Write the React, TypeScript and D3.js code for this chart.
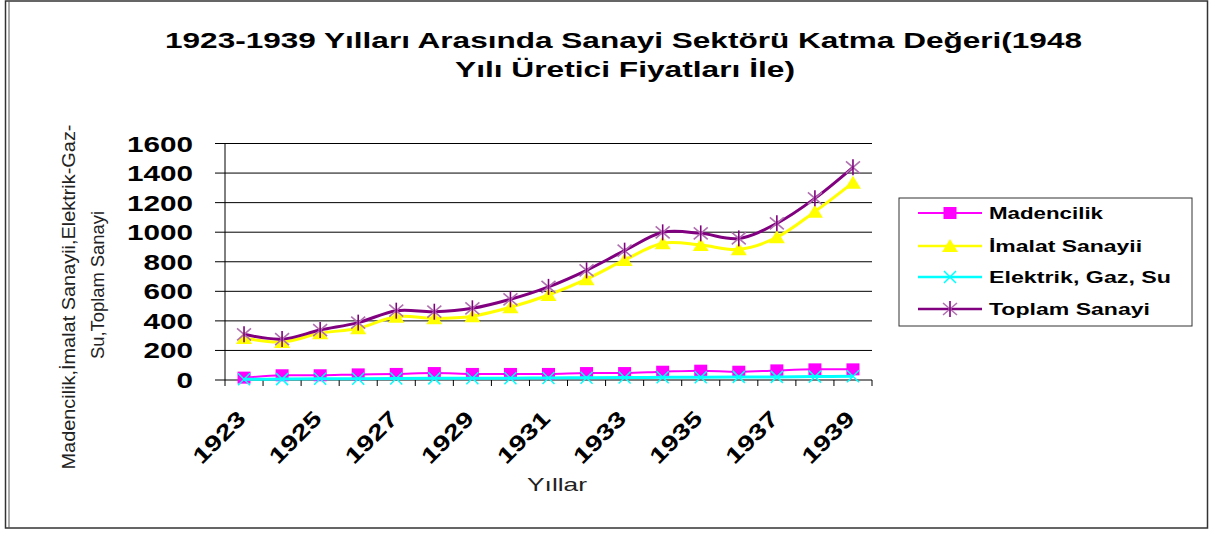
import React from "react";
import * as d3 from "d3";

const years: string[] = ["1923","1924","1925","1926","1927","1928","1929","1930","1931","1932","1933","1934","1935","1936","1937","1938","1939"];
const madencilik: number[] = [16, 32, 32, 38, 41, 47, 41, 41, 41, 47, 47, 56, 63, 56, 65, 72, 72];
const imalat: number[] = [284, 257, 316, 350, 428, 417, 432, 492, 575, 682, 812, 925, 913, 884, 965, 1139, 1335];
const elektrik: number[] = [5, 6, 8, 9, 10, 11, 12, 12, 14, 15, 17, 18, 19, 21, 21, 23, 25];
const toplam: number[] = [309, 277, 338, 388, 469, 462, 485, 546, 630, 742, 875, 999, 992, 958, 1060, 1229, 1439];
const yTicks: number[] = [0, 200, 400, 600, 800, 1000, 1200, 1400, 1600];
const seriesNames: string[] = ["Madencilik", "İmalat Sanayii", "Elektrik, Gaz, Su", "Toplam Sanayi"];
const titleLines: string[] = ["1923-1939 Yılları Arasında Sanayi Sektörü Katma Değeri(1948", "Yılı Üretici Fiyatları İle)"];
const yTitleLines: string[] = ["Madencilik,İmalat Sanayii,Elektrik-Gaz-", "Su,Toplam Sanayi"];
const xTitle = "Yıllar";

const FONT = "'Liberation Sans', Arial, sans-serif";

type Kind = "square" | "triangle" | "x" | "star";

function Marker({ kind, cx, cy }: { kind: Kind; cx: number; cy: number }) {
  if (kind === "square") {
    return <rect x={cx - 6.5} y={cy - 6} width={13} height={12} fill="#FF00FF" />;
  }
  if (kind === "triangle") {
    return <path d={`M${cx},${cy - 7} L${cx + 8},${cy + 6} L${cx - 8},${cy + 6} Z`} fill="#FFFF00" />;
  }
  if (kind === "x") {
    return <path d={`M${cx - 6},${cy - 6} L${cx + 6},${cy + 6} M${cx - 6},${cy + 6} L${cx + 6},${cy - 6}`} stroke="#00FFFF" strokeWidth={1.5} fill="none" />;
  }
  return (
    <g>
      <path d={`M${cx - 7},${cy - 6} L${cx + 7},${cy + 6} M${cx - 7},${cy + 6} L${cx + 7},${cy - 6}`} stroke="#B070B0" strokeWidth={1.6} fill="none" />
      <path d={`M${cx},${cy - 8} L${cx},${cy + 8}`} stroke="#800080" strokeWidth={1.6} fill="none" />
    </g>
  );
}

export default function App() {
  const left = 225, right = 872, top = 143.5, bottom = 380;
  const x = d3.scaleBand<string>().domain(years).range([left, right]).padding(0);
  const bw = x.bandwidth();
  const cx = (yr: string) => (x(yr) as number) + bw / 2;
  const y = d3.scaleLinear().domain([0, 1600]).range([bottom, top]);

  const series: { name: string; data: number[]; color: string; width: number; kind: Kind }[] = [
    { name: seriesNames[0], data: madencilik, color: "#FF00FF", width: 2, kind: "square" },
    { name: seriesNames[1], data: imalat, color: "#FFFF00", width: 3, kind: "triangle" },
    { name: seriesNames[2], data: elektrik, color: "#00FFFF", width: 3, kind: "x" },
    { name: seriesNames[3], data: toplam, color: "#800080", width: 3, kind: "star" },
  ];

  const line = d3
    .line<number>()
    .x((_, i) => cx(years[i]))
    .y((d) => y(d))
    .curve(d3.curveCatmullRom.alpha(0));

  const legendX = 899, legendY = 198, legendW = 293, legendH = 128;
  const legendRows = [213, 246, 277, 309];
  const legendLens = [114, 153, 182, 161];

  const boundaries = d3.range(years.length + 1).map((i) => left + i * bw);

  return (
    <svg width={1212} height={533} style={{ position: "absolute", left: 0, top: 0, background: "#fff" }} fontFamily={FONT}>
      {/* outer frame */}
      <rect x={5.5} y={1} width={1202} height={527} fill="none" stroke="#333" strokeWidth={1.5} />
      <line x1={9} y1={1} x2={9} y2={528} stroke="#555" strokeWidth={1} />

      {/* title */}
      <text x={623.5} y={48} textAnchor="middle" fontSize={22} fontWeight="bold" textLength={917} lengthAdjust="spacingAndGlyphs">{titleLines[0]}</text>
      <text x={625} y={77} textAnchor="middle" fontSize={22} fontWeight="bold" textLength={340} lengthAdjust="spacingAndGlyphs">{titleLines[1]}</text>

      {/* gridlines */}
      {yTicks.filter((t) => t > 0).map((t) => (
        <line key={t} x1={left} x2={right} y1={y(t)} y2={y(t)} stroke="#000" strokeWidth={1} />
      ))}
      {/* y axis */}
      <line x1={left} x2={left} y1={top} y2={bottom} stroke="#000" strokeWidth={1} />
      {yTicks.map((t) => (
        <g key={t}>
          <line x1={left - 10} x2={left} y1={y(t)} y2={y(t)} stroke="#000" strokeWidth={1} />
          <text x={193} y={y(t) + 8} textAnchor="end" fontSize={22} fontWeight="bold" textLength={String(t).length * 16.5} lengthAdjust="spacingAndGlyphs">{t}</text>
        </g>
      ))}
      {/* x axis */}
      <line x1={left} x2={right} y1={bottom} y2={bottom} stroke="#000" strokeWidth={1} />
      {boundaries.map((b, i) => (
        <line key={i} x1={b} x2={b} y1={bottom} y2={bottom + 6} stroke="#000" strokeWidth={1} />
      ))}
      {years.map((yr, i) =>
        i % 2 === 0 ? (
          <text key={yr} transform={`translate(${cx(yr) + 3},${420}) rotate(-45)`} textAnchor="end" fontSize={22} fontWeight="bold" textLength={64} lengthAdjust="spacingAndGlyphs">{yr}</text>
        ) : null
      )}

      {/* axis titles */}
      <text x={557} y={490.5} textAnchor="middle" fontSize={19} fill="#222" textLength={60} lengthAdjust="spacingAndGlyphs">{xTitle}</text>
      <text transform={`translate(75,297) rotate(-90)`} textAnchor="middle" fontSize={19} fill="#222" textLength={345} lengthAdjust="spacingAndGlyphs">{yTitleLines[0]}</text>
      <text transform={`translate(104,285) rotate(-90)`} textAnchor="middle" fontSize={19} fill="#222" textLength={148} lengthAdjust="spacingAndGlyphs">{yTitleLines[1]}</text>

      {/* series */}
      {series.map((s) => (
        <g key={s.name}>
          <path d={line(s.data) || ""} fill="none" stroke={s.color} strokeWidth={s.width} />
          {s.data.map((v, i) => (
            <Marker key={i} kind={s.kind} cx={cx(years[i])} cy={y(v)} />
          ))}
        </g>
      ))}

      {/* legend */}
      <rect x={legendX} y={legendY} width={legendW} height={legendH} fill="#fff" stroke="#333" strokeWidth={1} />
      {series.map((s, i) => (
        <g key={s.name}>
          <line x1={918} x2={982} y1={legendRows[i]} y2={legendRows[i]} stroke={s.color} strokeWidth={s.width === 2 ? 2 : 2.5} />
          <Marker kind={s.kind} cx={950} cy={legendRows[i]} />
          <text x={989} y={legendRows[i] + 6} fontSize={16} fontWeight="bold" textLength={legendLens[i]} lengthAdjust="spacingAndGlyphs">{s.name}</text>
        </g>
      ))}
    </svg>
  );
}
